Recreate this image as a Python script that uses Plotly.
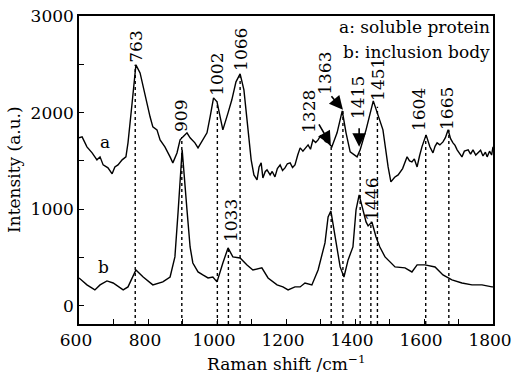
import plotly.graph_objects as go

# Spectrum a: soluble protein (Raman shift cm^-1, intensity a.u.)
a_x = [600, 609, 623, 638, 652, 661, 670, 684, 696, 704, 713, 725, 736, 742, 754, 765,
       777, 786, 797, 806, 814, 826, 835, 849, 864, 872, 884, 893, 901, 913, 922, 936,
       945, 959, 971, 980, 990, 1000, 1009, 1017, 1032, 1043, 1055, 1067, 1078, 1090,
       1099, 1107, 1116, 1122, 1128, 1133, 1140, 1145, 1154, 1160, 1168, 1175, 1183,
       1190, 1197, 1204, 1212, 1219, 1226, 1234, 1241, 1249, 1256, 1264, 1271, 1278,
       1286, 1293, 1300, 1307, 1314, 1322, 1333, 1348, 1363, 1374, 1386, 1397, 1406,
       1415, 1432, 1453, 1468, 1481, 1496, 1504, 1515, 1525, 1538, 1551, 1558, 1565,
       1572, 1580, 1587, 1594, 1606, 1617, 1626, 1632, 1638, 1646, 1655, 1662, 1670,
       1677, 1684, 1690, 1696, 1703, 1710, 1717, 1728, 1735, 1742, 1750, 1757, 1764,
       1771, 1778, 1783, 1790, 1796, 1800]
a_y = [1738, 1748, 1645, 1582, 1510, 1541, 1458, 1427, 1365, 1437, 1458, 1510, 1541, 1686,
       2101, 2494, 2411, 2266, 2101, 1956, 1852, 1821, 1717, 1645, 1541, 1479, 1582, 1717,
       1748, 1790, 1738, 1686, 1634, 1717, 1790, 1956, 2152, 2111, 1945, 1821, 1997, 2132,
       2318, 2401, 2235, 1821, 1510, 1354, 1303, 1437, 1479, 1323, 1390, 1406, 1354, 1390,
       1334, 1420, 1458, 1400, 1427, 1470, 1479, 1430, 1458, 1560, 1634, 1600, 1634, 1665,
       1620, 1717, 1690, 1717, 1760, 1738, 1700, 1686, 1645, 1790, 2018, 1790, 1593, 1560,
       1541, 1614, 1821, 2121, 1950, 1821, 1437, 1282, 1330, 1354, 1420, 1541, 1500, 1489,
       1520, 1437, 1550, 1645, 1769, 1645, 1582, 1650, 1686, 1665, 1696, 1740, 1821, 1730,
       1686, 1660, 1614, 1580, 1541, 1600, 1614, 1570, 1614, 1560, 1582, 1610, 1551, 1590,
       1541, 1600, 1560, 1645]

# Spectrum b: inclusion body
b_x = [600, 623, 646, 661, 681, 699, 728, 742, 765, 786, 814, 843, 864, 878, 887, 899,
       913, 922, 930, 945, 959, 974, 988, 1000, 1017, 1032, 1046, 1067, 1087, 1104, 1130,
       1148, 1174, 1191, 1206, 1226, 1241, 1255, 1275, 1293, 1313, 1322, 1330, 1342,
       1357, 1368, 1380, 1394, 1403, 1412, 1420, 1432, 1438, 1449, 1461, 1472, 1487,
       1516, 1545, 1565, 1580, 1603, 1632, 1655, 1681, 1710, 1739, 1768, 1797, 1800]
b_y = [287, 215, 163, 215, 256, 235, 163, 194, 370, 297, 215, 246, 297, 505, 961, 1614,
       992, 608, 442, 349, 318, 287, 297, 246, 442, 598, 505, 494, 422, 370, 391,
       287, 215, 194, 163, 194, 194, 235, 215, 370, 650, 919, 981, 712,
       401, 297, 474, 608, 992, 1147, 1044, 867, 826, 867, 712, 608, 505,
       401, 391, 349, 422, 422, 401, 318, 266, 235, 215, 215, 194, 194]

# Peak markers: dotted line position, line top, label text, label position
line_x = [763, 898, 1001, 1033, 1067, 1331, 1365, 1415, 1446, 1465, 1605, 1672]
line_top = [2494, 1748, 2111, 598, 2401, 1645, 2018, 1614, 870, 2060, 1769, 1821]
label_text = ["763", "909", "1002", "1066", "1033", "1328", "1363", "1415", "1451",
              "1446", "1604", "1665"]
label_x = [765, 896, 1000, 1070, 1041, 1267, 1313, 1409, 1467, 1449, 1586, 1667]
label_y = [2681, 1966, 2391, 2650, 878, 2007, 2412, 2152, 2339, 1106, 2028, 2038]

# Arrows (tail -> head)
arrow_tail_x = [1293, 1328, 1412]
arrow_tail_y = [1893, 2184, 1852]
arrow_head_x = [1330, 1365, 1412]
arrow_head_y = [1665, 2028, 1645]

x_ticks = [600, 800, 1000, 1200, 1400, 1600, 1800]
y_ticks = [0, 1000, 2000, 3000]

FONT = "DejaVu Serif"
FS = 17

fig = go.Figure()
for lx, lt in zip(line_x, line_top):
    fig.add_trace(go.Scatter(x=[lx, lx], y=[-190, lt], mode="lines",
                             line=dict(color="black", width=1.4, dash="dot"),
                             showlegend=False, hoverinfo="skip"))
fig.add_trace(go.Scatter(x=a_x, y=a_y, mode="lines",
                         line=dict(color="black", width=1.4), showlegend=False))
fig.add_trace(go.Scatter(x=b_x, y=b_y, mode="lines",
                         line=dict(color="black", width=1.4), showlegend=False))

ann = []
for t, x, y in zip(label_text, label_x, label_y):
    ann.append(dict(x=x, y=y, xref="x", yref="y", text=t, showarrow=False,
                    textangle=-90, xanchor="center", yanchor="middle",
                    font=dict(family=FONT, size=FS, color="black")))
for tx, ty, hx, hy in zip(arrow_tail_x, arrow_tail_y, arrow_head_x, arrow_head_y):
    ann.append(dict(x=hx, y=hy, ax=tx, ay=ty, xref="x", yref="y", axref="x", ayref="y",
                    text="", showarrow=True, arrowhead=2, arrowsize=1.7, arrowwidth=1.6,
                    arrowcolor="black"))
ann.append(dict(x=675, y=1700, xref="x", yref="y", text="a", showarrow=False,
                font=dict(family=FONT, size=FS, color="black")))
ann.append(dict(x=672, y=400, xref="x", yref="y", text="b", showarrow=False,
                font=dict(family=FONT, size=FS, color="black")))
ann.append(dict(x=1797, y=2890, xref="x", yref="y", text="a: soluble protein",
                showarrow=False, xanchor="right", yanchor="middle",
                font=dict(family=FONT, size=FS, color="black")))
ann.append(dict(x=1797, y=2630, xref="x", yref="y", text="b: inclusion body",
                showarrow=False, xanchor="right", yanchor="middle",
                font=dict(family=FONT, size=FS, color="black")))
ann.append(dict(x=-0.157, y=0.5, xref="paper", yref="paper", text="Intensity (a.u.)",
                showarrow=False, textangle=-90, xanchor="center", yanchor="middle",
                font=dict(family=FONT, size=FS, color="black")))
ann.append(dict(x=0.5, y=-0.085, xref="paper", yref="paper",
                text="Raman shift /cm<sup>−1</sup>", showarrow=False,
                xanchor="center", yanchor="top",
                font=dict(family=FONT, size=FS, color="black")))

fig.update_layout(
    width=512, height=373,
    margin=dict(l=79, r=19, t=16, b=49, autoexpand=False),
    paper_bgcolor="white", plot_bgcolor="white",
    annotations=ann,
    font=dict(family=FONT, size=FS, color="black"),
)
fig.update_xaxes(range=[600, 1800], tickvals=x_ticks, ticks="inside", ticklen=5,
                 tickwidth=1.2, tickcolor="black", showline=True, linecolor="black",
                 linewidth=1.5, mirror=True, showgrid=False, zeroline=False,
                 automargin=False, ticklabelshift=-3, ticklabeloverflow="allow",
                 minor=dict(dtick=100, tick0=600, ticks="inside", ticklen=5,
                            tickcolor="black", tickwidth=1.2),
                 tickfont=dict(family=FONT, size=FS, color="black"))
fig.update_yaxes(range=[-190, 3000], tickvals=y_ticks, ticks="inside", ticklen=5,
                 tickwidth=1.2, tickcolor="black", showline=True, linecolor="black",
                 linewidth=1.5, mirror=True, showgrid=False, zeroline=False,
                 automargin=False, ticklabeloverflow="allow",
                 minor=dict(dtick=500, tick0=0, ticks="inside", ticklen=5,
                            tickcolor="black", tickwidth=1.2),
                 tickfont=dict(family=FONT, size=FS, color="black"))

fig.write_html("out.html")
